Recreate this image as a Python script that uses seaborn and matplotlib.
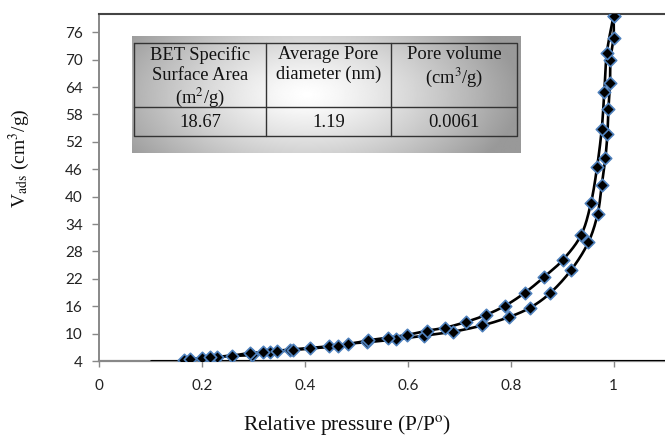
import numpy as np
import pandas as pd
import matplotlib
matplotlib.use("Agg")
import matplotlib.pyplot as plt
import seaborn as sns

# adsorption branch (lower curve)
ads_p = [0.164, 0.199, 0.229, 0.296, 0.331, 0.371, 0.409, 0.446, 0.483, 0.520,
         0.576, 0.632, 0.687, 0.745, 0.796, 0.838, 0.877, 0.918, 0.951, 0.969,
         0.977, 0.984, 0.988, 0.990, 0.993, 0.994, 1.0, 1.0]
ads_v = [4.3, 4.6, 4.95, 5.3, 6.05, 6.5, 6.85, 7.2, 7.8, 8.1,
         8.75, 9.55, 10.4, 11.8, 13.6, 15.7, 18.9, 24.0, 30.0, 36.2,
         42.5, 48.4, 53.7, 59.2, 64.8, 70.0, 74.8, 79.6]

# desorption branch (upper curve)
des_p = [0.176, 0.215, 0.259, 0.293, 0.318, 0.346, 0.377, 0.464, 0.522, 0.561,
         0.598, 0.638, 0.673, 0.713, 0.752, 0.789, 0.827, 0.864, 0.901, 0.937,
         0.956, 0.968, 0.977, 0.982, 0.987, 1.0]
des_v = [4.4, 4.8, 5.2, 5.75, 5.9, 6.1, 6.4, 7.3, 8.5, 9.1,
         9.7, 10.65, 11.3, 12.55, 14.1, 16.1, 18.9, 22.3, 26.1, 31.6,
         38.6, 46.5, 54.8, 62.9, 71.5, 79.6]

yticks = list(range(4, 77, 6))
xticks = [0, 0.2, 0.4, 0.6, 0.8, 1]
xtick_labels = ["0", "0.2", "0.4", "0.6", "0.8", "1"]

# table in the inset
tab_header = ["BET Specific\nSurface Area\n(m$^2$/g)", "Average Pore\ndiameter (nm)", "Pore volume\n(cm$^3$/g)"]
tab_values = ["18.67", "1.19", "0.0061"]

XMAX, YMIN, YMAX = 1.1, 4, 80


def smooth(px, py, sx, sy, n=20):
    # Excel-like smoothed line (Catmull-Rom / Hermite) computed in screen scale
    p = np.column_stack([np.array(px) * sx, np.array(py) * sy])
    pts = np.vstack([p[0], p, p[-1]])
    out = []
    t = np.linspace(0, 1, n)[:, None]
    for i in range(1, len(pts) - 2):
        p0, p1, p2, p3 = pts[i - 1], pts[i], pts[i + 1], pts[i + 2]
        m1 = (p2 - p0) / 2
        m2 = (p3 - p1) / 2
        h00 = 2 * t**3 - 3 * t**2 + 1
        h10 = t**3 - 2 * t**2 + t
        h01 = -2 * t**3 + 3 * t**2
        h11 = t**3 - t**2
        out.append(h00 * p1 + h10 * m1 + h01 * p2 + h11 * m2)
    c = np.vstack(out)
    return c[:, 0] / sx, c[:, 1] / sy


sns.set_theme(style="white")
plt.rcParams["mathtext.fontset"] = "stix"

fig = plt.figure(figsize=(6.65, 4.36), dpi=100)
ax = fig.add_axes([0.1493, 0.172, 0.8507, 0.796])

# pixel scale of the axes for smoothing
sx = 565.7 / XMAX
sy = 347.0 / (YMAX - YMIN)

for px, py in [(ads_p, ads_v), (des_p, des_v)]:
    cx, cy = smooth(px, py, sx, sy)
    sns.lineplot(x=cx, y=cy, sort=False, estimator=None, color="black", lw=1.9, ax=ax, zorder=3)

pts = pd.DataFrame({"p": ads_p + des_p, "v": ads_v + des_v})
sns.scatterplot(data=pts, x="p", y="v", marker="D", s=40, color="black",
                edgecolor="#4f81bd", linewidth=1.2, ax=ax, zorder=4)

ax.axhline(4, xmin=0.1 / XMAX, color="black", lw=2.2, zorder=3)

ax.set_xlim(0, XMAX)
ax.set_ylim(YMIN, YMAX)
ax.set_xticks(xticks)
ax.set_xticklabels(xtick_labels)
ax.set_yticks(yticks)

for lab in ax.get_xticklabels() + ax.get_yticklabels():
    lab.set_family("Lato")
    lab.set_fontsize(11)
    lab.set_color("#222222")

ax.tick_params(axis="y", direction="out", length=5, width=1, color="#888888", pad=7, left=True)
ax.tick_params(axis="x", direction="out", length=4, width=1, color="#888888", pad=9, bottom=True)

ax.spines["right"].set_visible(False)
ax.spines["left"].set_color("#888888")
ax.spines["left"].set_linewidth(1.4)
ax.spines["bottom"].set_color("#888888")
ax.spines["bottom"].set_linewidth(1.6)
ax.spines["top"].set_color("#444444")
ax.spines["top"].set_linewidth(1.5)

ax.set_xlabel("Relative pressure (P/P$^{\\mathrm{o}}$)", family="Liberation Serif", fontsize=15.5,
              color="#111111", va="center")
ax.set_ylabel("V$_{\\mathrm{ads}}$ (cm$^{3}$/g)", family="Liberation Serif", fontsize=14,
              color="#111111", va="center")
ax.xaxis.set_label_coords(0.438, -0.183)
ax.yaxis.set_label_coords(-0.142, 0.585)

# inset table with a grey/white gradient background
W, H = 389.0, 117.0
tax = fig.add_axes([132 / 665, 1 - 153 / 436, W / 665, H / 436])
gx, gy = np.meshgrid(np.linspace(0, 1, 400), np.linspace(0, 1, 120))
d = np.sqrt(((gx - 0.45) / 0.55) ** 2 + ((gy - 0.5) / 0.95) ** 2)
g = 1 - 0.4 * np.clip(d, 0, 1) ** 1.3
tax.imshow(g, cmap="gray", vmin=0, vmax=1, extent=[0, W, H, 0], aspect="auto", zorder=0)
tax.set_xlim(0, W)
tax.set_ylim(H, 0)
tax.axis("off")

lc = "#333333"
x0, x1, x2, x3 = 2, 134, 259, 385
y0, y1, y2 = 7, 71, 100
tax.plot([x0, x3, x3, x0, x0], [y0, y0, y2, y2, y0], color=lc, lw=1)
tax.plot([x0, x3], [y1, y1], color=lc, lw=1)
tax.plot([x1, x1], [y0, y2], color=lc, lw=1)
tax.plot([x2, x2], [y0, y2], color=lc, lw=1)

centers = [(x0 + x1) / 2, (x1 + x2) / 2, (x2 + x3) / 2]
for cx, head, val in zip(centers, tab_header, tab_values):
    tax.text(cx, y0 + 3, head, ha="center", va="top", family="Liberation Serif",
             fontsize=13.3, linespacing=1.22, color="#111111")
    tax.text(cx, (y1 + y2) / 2 + 1, val, ha="center", va="center", family="Liberation Serif",
             fontsize=13.3, color="#111111")

fig.savefig("out.png", dpi=100)
